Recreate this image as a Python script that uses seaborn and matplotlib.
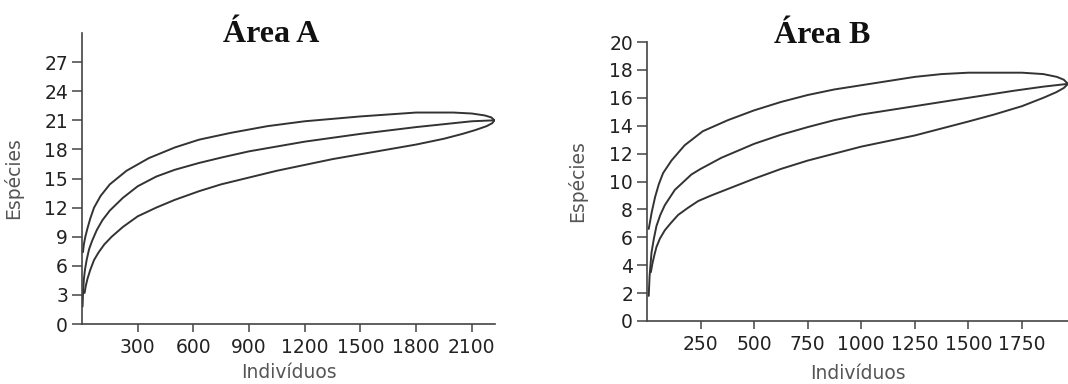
import matplotlib
matplotlib.use("Agg")
import matplotlib.pyplot as plt
import seaborn as sns
import pandas as pd

# ---------------- data ----------------
# Área A
a_x_upper = [5, 10, 18, 30, 45, 65, 100, 150, 240, 360, 500, 630, 800, 1000, 1200, 1500, 1800, 2000, 2100, 2170, 2205, 2222]
a_upper = [7.4, 8.2, 9.0, 9.9, 10.9, 12.0, 13.2, 14.4, 15.8, 17.1, 18.2, 19.0, 19.7, 20.4, 20.9, 21.4, 21.8, 21.8, 21.7, 21.5, 21.3, 21.0]
a_x_mean = [3, 6, 10, 16, 25, 38, 55, 80, 110, 150, 220, 300, 400, 500, 630, 760, 900, 1050, 1200, 1500, 1800, 2000, 2100, 2222]
a_mean = [1.8, 3.4, 4.6, 5.6, 6.6, 7.7, 8.6, 9.7, 10.7, 11.7, 13.0, 14.2, 15.2, 15.9, 16.6, 17.2, 17.8, 18.3, 18.8, 19.6, 20.3, 20.7, 20.9, 21.0]
a_x_lower = [14, 20, 30, 45, 65, 90, 120, 160, 220, 300, 400, 500, 632, 750, 900, 1050, 1200, 1350, 1500, 1650, 1800, 1950, 2050, 2120, 2180, 2210, 2222]
a_lower = [3.2, 3.9, 4.7, 5.6, 6.6, 7.4, 8.2, 9.0, 10.0, 11.1, 12.0, 12.8, 13.7, 14.4, 15.1, 15.8, 16.4, 17.0, 17.5, 18.0, 18.5, 19.1, 19.6, 20.0, 20.4, 20.7, 21.0]

# Área B
b_x_upper = [8, 14, 22, 38, 55, 75, 114, 176, 260, 378, 500, 625, 750, 875, 1000, 1125, 1250, 1375, 1500, 1750, 1850, 1913, 1945, 1965]
b_upper = [6.6, 7.1, 7.8, 8.9, 9.8, 10.6, 11.5, 12.6, 13.6, 14.4, 15.1, 15.7, 16.2, 16.6, 16.9, 17.2, 17.5, 17.7, 17.8, 17.8, 17.7, 17.5, 17.3, 17.0]
b_x_mean = [8, 12, 21, 32, 44, 62, 83, 130, 207, 250, 347, 500, 625, 750, 875, 1000, 1250, 1500, 1710, 1850, 1965]
b_mean = [1.8, 3.2, 4.9, 5.9, 6.8, 7.6, 8.3, 9.4, 10.5, 10.9, 11.7, 12.7, 13.35, 13.9, 14.4, 14.8, 15.4, 16.0, 16.5, 16.8, 17.0]
b_x_lower = [18, 25, 34, 44, 60, 83, 110, 145, 190, 239, 300, 400, 500, 625, 750, 875, 1000, 1125, 1250, 1375, 1500, 1620, 1750, 1850, 1910, 1945, 1965]
b_lower = [3.5, 4.1, 4.7, 5.3, 5.9, 6.5, 7.0, 7.6, 8.1, 8.6, 9.0, 9.6, 10.2, 10.9, 11.5, 12.0, 12.5, 12.9, 13.3, 13.8, 14.3, 14.8, 15.4, 16.0, 16.4, 16.7, 17.0]

a_xticks = [300, 600, 900, 1200, 1500, 1800, 2100]
a_yticks = [0, 3, 6, 9, 12, 15, 18, 21, 24, 27]
b_xticks = [250, 500, 750, 1000, 1250, 1500, 1750]
b_yticks = [0, 2, 4, 6, 8, 10, 12, 14, 16, 18, 20]

titles = ["Área A", "Área B"]
xlabel = "Indivíduos"
ylabel = "Espécies"

# ---------------- style ----------------
sns.set_style("ticks")
plt.rcParams["font.family"] = ["DejaVu Sans"]
plt.rcParams["font.sans-serif"] = ["DejaVu Sans"]

W, H = 1068, 384
fig = plt.figure(figsize=(W / 100, H / 100), dpi=100)
fig.patch.set_facecolor("white")

axA = fig.add_axes([82 / W, 60 / H, 413 / W, 291 / H])
axB = fig.add_axes([647 / W, 63 / H, 421 / W, 279 / H])

line_color = "#333333"

def build(xu, yu, xm, ym, xl, yl):
    rows = []
    for name, xs, ys in (("upper", xu, yu), ("mean", xm, ym), ("lower", xl, yl)):
        for x, y in zip(xs, ys):
            rows.append({"serie": name, "x": x, "y": y})
    return pd.DataFrame(rows)

dfA = build(a_x_upper, a_upper, a_x_mean, a_mean, a_x_lower, a_lower)
dfB = build(b_x_upper, b_upper, b_x_mean, b_mean, b_x_lower, b_lower)

pal = {"upper": line_color, "mean": line_color, "lower": line_color}

for ax, df, xt, yt, xlim, ylim in (
    (axA, dfA, a_xticks, a_yticks, (0, 2225), (0, 30)),
    (axB, dfB, b_xticks, b_yticks, (0, 1965), (0, 20)),
):
    sns.lineplot(data=df, x="x", y="y", hue="serie", palette=pal, estimator=None,
                 sort=False, linewidth=1.4, legend=False, ax=ax)
    ax.set_xlim(*xlim)
    ax.set_ylim(*ylim)
    ax.set_xticks(xt)
    ax.set_yticks(yt)
    ax.set_xticklabels([str(v) for v in xt], family="DejaVu Sans")
    ax.set_yticklabels([str(v) for v in yt], family="DejaVu Sans")
    sns.despine(ax=ax)
    for s in ("left", "bottom"):
        ax.spines[s].set_color("#444444")
        ax.spines[s].set_linewidth(1.2)
    ax.tick_params(axis="y", length=7, width=1.1, color="#444444", pad=3,
                   labelsize=13.5, labelcolor="#222222")
    ax.tick_params(axis="x", length=6, width=1.1, color="#444444", pad=4,
                   labelsize=13.5, labelcolor="#222222")
    ax.set_xlabel(xlabel, fontsize=13.5, color="#555555", family="DejaVu Sans")
    ax.set_ylabel(ylabel, fontsize=13.5, color="#555555", family="DejaVu Sans")
    ax.set_facecolor("white")

axA.yaxis.set_label_coords(-0.143, 0.5)
axA.xaxis.set_label_coords(0.5, -0.135)
axB.yaxis.set_label_coords(-0.1425, 0.5)
axB.xaxis.set_label_coords(0.5, -0.155)

fig.text(271 / W, 1 - 42 / H, titles[0], ha="center", va="baseline",
         fontsize=23, fontweight="bold", family="Liberation Serif", color="#111111")
fig.text(822 / W, 1 - 43 / H, titles[1], ha="center", va="baseline",
         fontsize=23, fontweight="bold", family="Liberation Serif", color="#111111")

fig.savefig("out.png", dpi=100, facecolor="white")
